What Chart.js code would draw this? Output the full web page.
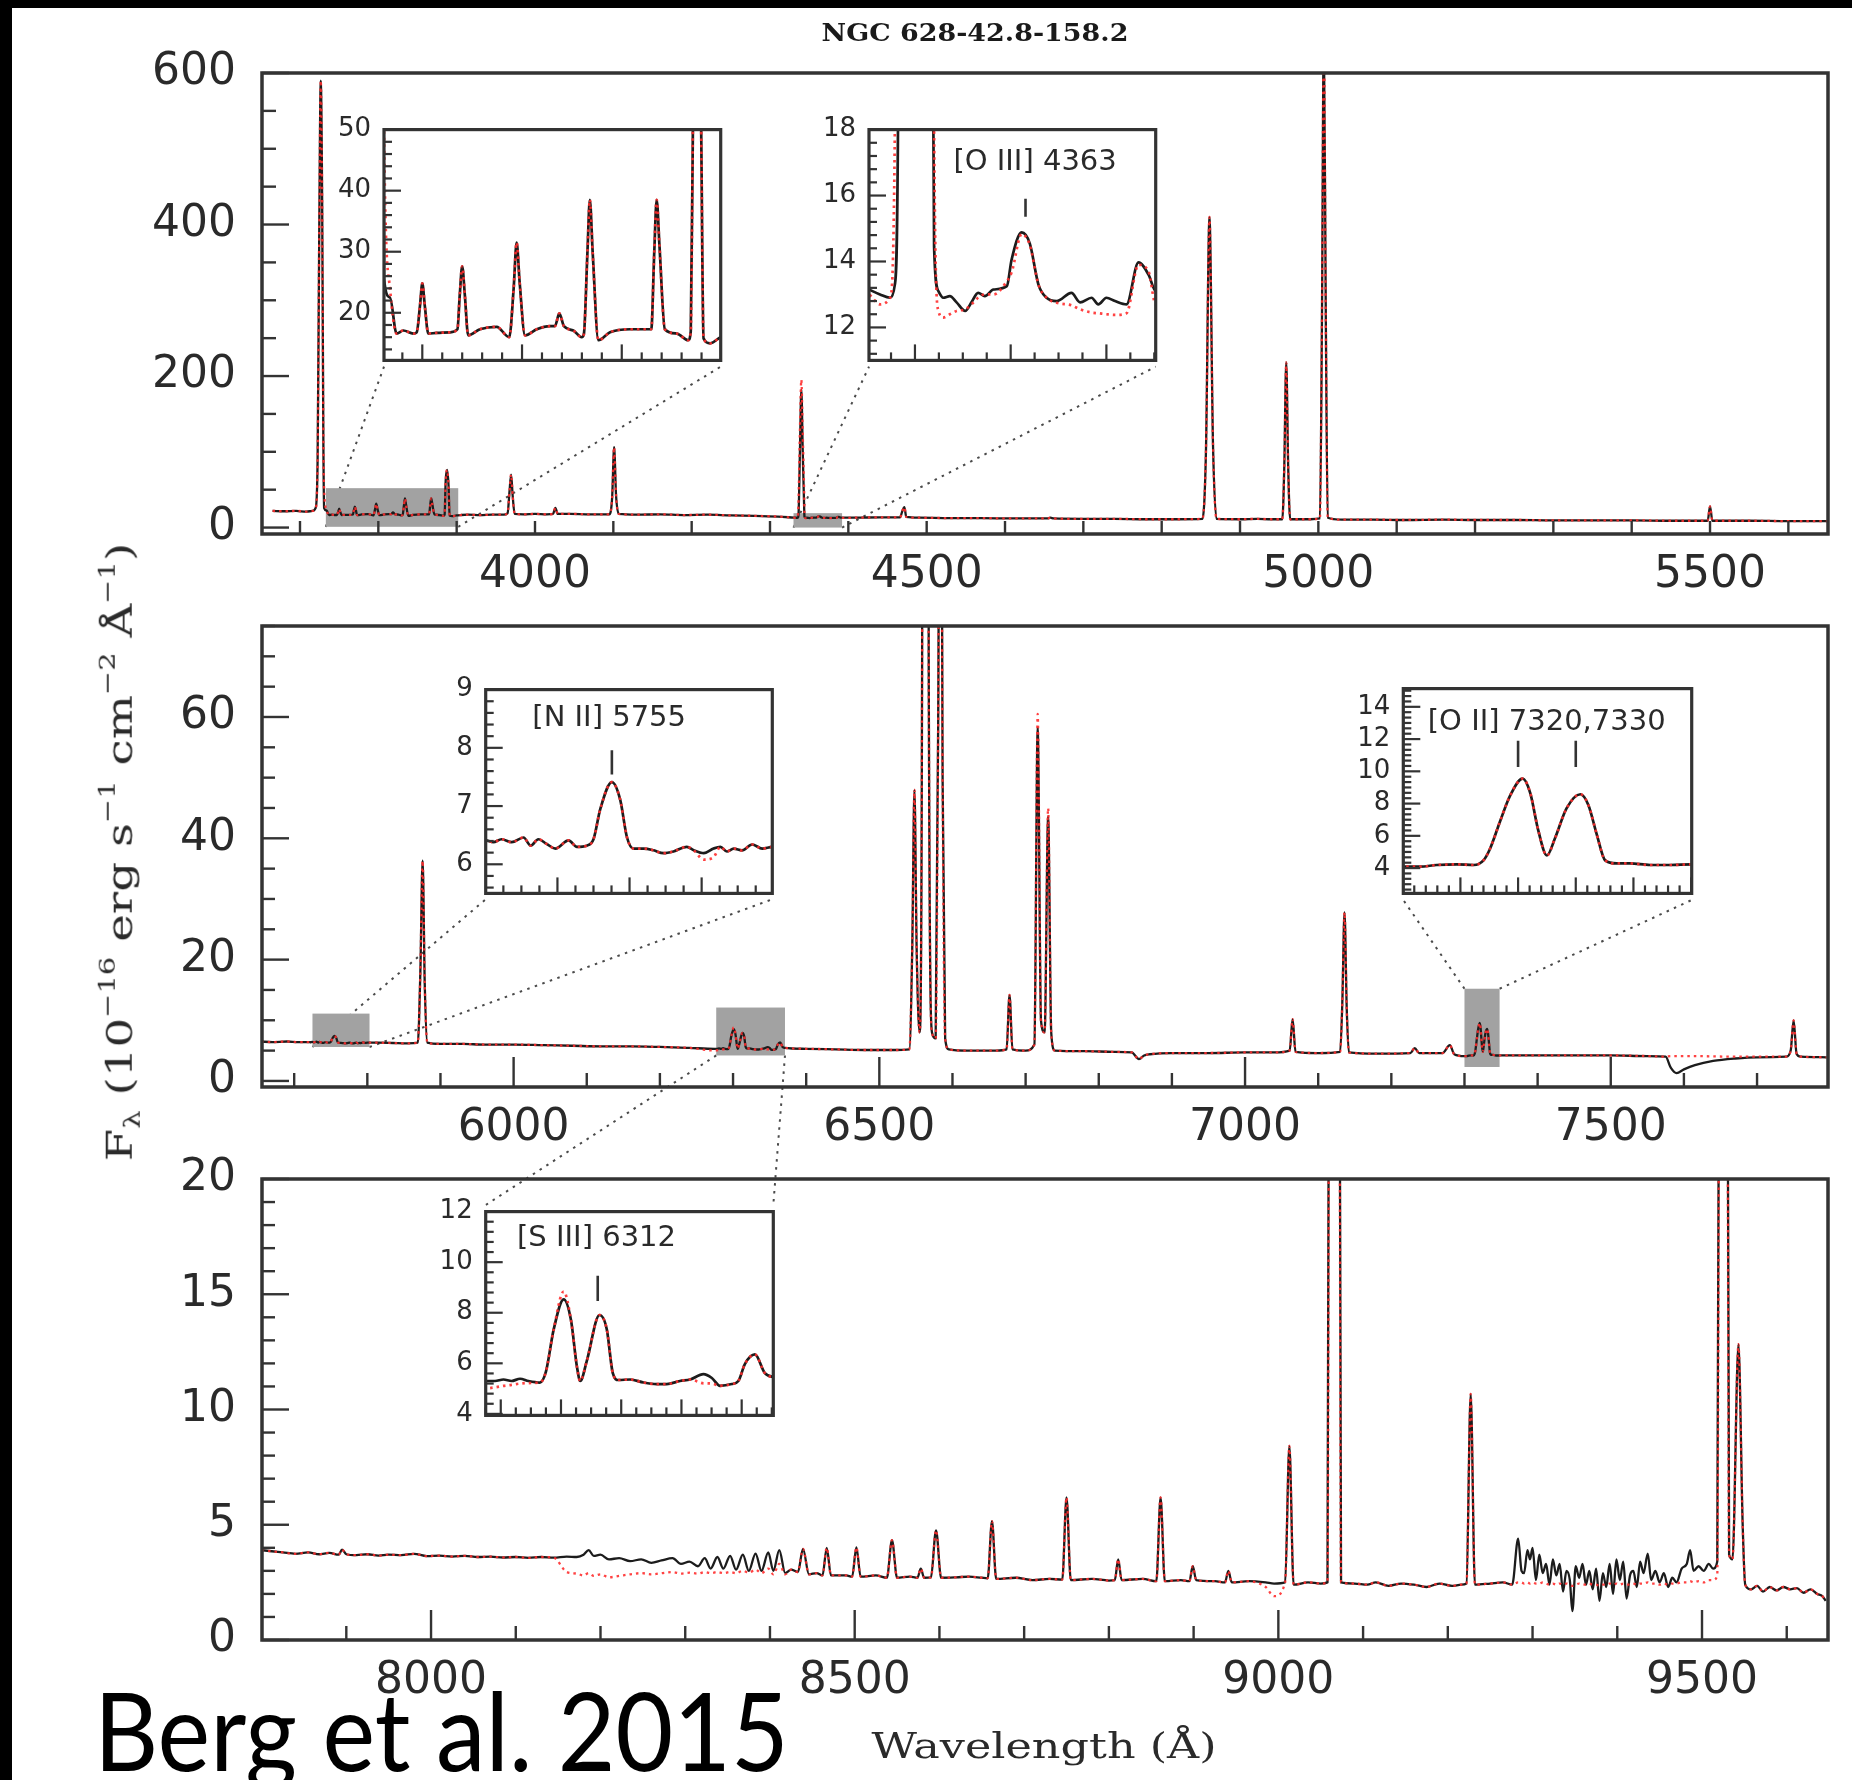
<!DOCTYPE html>
<html><head><meta charset="utf-8">
<script src="https://cdn.jsdelivr.net/npm/chart.js@4.4.1/dist/chart.umd.min.js"></script>
<style>
html,body{margin:0;padding:0;background:#fff;}
#page{position:relative;width:1852px;height:1780px;overflow:hidden;background:#fff;}
#page canvas{position:absolute;}
.txt{position:absolute;white-space:nowrap;color:#222;line-height:normal;}
.sup{font-size:62%;vertical-align:0.75em;}
.sub{font-size:62%;vertical-align:-0.35em;}
</style></head><body>
<div id="page">
<canvas id="c1" width="1852" height="1780" style="left:0;top:0"></canvas>
<canvas id="c2" width="1852" height="1780" style="left:0;top:0"></canvas>
<canvas id="c3" width="1852" height="1780" style="left:0;top:0"></canvas>
</div>
<script>
// ---------------- DATA ----------------
// Panel 1 (3650-5650 A)
const p1XLabels = [4000, 4500, 5000, 5500];
const p1YLabels = [0, 200, 400, 600];
const p1Wave = [3665,3680,3695,3708,3716,3720,3722.5,3724.5,3726.5,3728.3,
 3729.8,3730.8,3733.8,3737.1,3740.5,3745.5,3747.2,3748.8,3750,3751.3,
 3753,3757.2,3763.9,3767.6,3768.8,3770,3771.3,3773,3778.9,3787.3,
 3793.6,3795.8,3797.3,3798.8,3801.5,3807.4,3814,3816.5,3818.7,3821,
 3825.7,3829.9,3831,3832.8,3834,3835.4,3838.3,3844.1,3854.2,3862.5,
 3864.8,3866.3,3867.5,3868.9,3871.6,3877.5,3883.3,3884.6,3886,3887.8,
 3889.6,3891,3894.3,3899.6,3905,3915,3930,3945,3960,3965,
 3967.5,3969.5,3971.5,3974,3985,4000,4015,4023,4026,4029,
 4045,4070,4095,4098.5,4101,4103.5,4107,4130,4160,4190,
 4220,4250,4280,4310,4330.4,4332.7,4334.8,4335.8,4336.5,4338.2,
 4340,4341.8,4343.7,4344,4344.9,4345.9,4347.3,4348.7,4350.5,4351.8,
 4353.2,4354.6,4356.4,4359.2,4360.2,4362.3,4364,4365.8,4367.5,4369.6,
 4372.7,4374.5,4376.9,4378.3,4380,4381.8,4384.2,4386.7,4388.8,4390.3,
 4410,4440,4466,4469,4471.5,4474,4490,4530,4570,4610,
 4654,4658,4662,4700,4740,4780,4820,4852,4856.5,4861,
 4865.5,4870,4900,4922,4940,4954,4956.5,4959,4961.5,4964,
 4990,5002,5004.5,5007,5009.5,5012,5030,5070,5110,5160,
 5200,5250,5300,5350,5400,5450,5497,5500,5503,5550,
 5600,5650];
const p1Flux = [22,21.5,22,21,22,26,90,380,590,430,
 120,25.6,22.5,16.6,17.1,16.6,16.8,21,24.8,21,
 16.6,16.7,16.8,17.3,23,27.6,23,16.3,17.3,17.7,
 16,24,31.5,25,16.3,17.3,17.8,17.8,19.9,17.8,
 17.1,16,16.5,30,38.5,30,15.5,16.8,17.3,17.3,
 17.3,30,38.5,31,17.3,16.6,15.5,17,62,76,
 56,15.8,15,16,16.5,17,16.5,17,17,19,
 48,70,42,18,17.5,18,17.5,18,26,18,
 18,17.5,17.5,40,106,42,18,17,17.5,16.5,
 17,16,15.5,14.5,13.15,13,12.9,13.3,19,100,
 182,100,22,14.45,13.1,12.9,12.95,12.76,12.5,12.76,
 13.05,12.95,13.15,13.25,14.06,14.88,14.54,13.3,12.9,12.8,
 13.05,12.76,12.9,12.7,12.9,12.8,12.7,13.97,13.6,13.1,
 13,13.5,13.5,22,27,14,13,12.5,12.5,12,
 12,13,12,11.5,11.5,11,11,11.5,100,410,
 110,11.5,11,11.5,11,11,80,218,80,11,
 11,12,260,655,280,13,10.5,10.5,10,10.5,
 10,10,9.5,9.5,9.5,9,9,28,9,9,
 8.5,8.5];
// model fit (red dotted): values that differ from the observed spectrum
const p1ModelWave = [3730.8,3733.8,4330.4,4332.7,4334.8,4335.8,4336.5,4338.2,4340,4341.8,
 4343.7,4344,4344.9,4345.9,4347.3,4348.7,4350.5,4351.8,4353.2,4354.6,
 4356.4,4359.2,4360.2,4362.3,4364,4365.8,4367.5,4369.6,4372.7,4374.5,
 4376.9,4378.3,4380,4381.8,4384.2,4386.7,4388.8,4390.3];
const p1ModelFlux = [50,24,13.0,12.7,12.9,18,40,130,195,125,
 40,18,12.5,12.3,12.4,12.5,12.55,12.7,12.9,13.0,
 13.0,13.4,13.67,14.83,14.5,13.3,12.9,12.75,12.67,12.55,
 12.45,12.43,12.4,12.38,12.43,13.9,13.7,12.7];

// Panel 2 (5655-7795 A)
const p2XLabels = [6000, 6500, 7000, 7500];
const p2YLabels = [0, 20, 40, 60];
const p2Wave = [5655,5670,5690,5705,5720.1,5722.2,5724.5,5727.3,5730.6,5732.6,
 5734.7,5737,5739.4,5743.1,5745.4,5748.1,5750,5751.9,5755.1,5757.4,
 5759.3,5761.1,5763.9,5766.7,5769.4,5772.2,5775.9,5777.8,5780.6,5783.3,
 5785.2,5787,5788.9,5791.2,5794,5796.8,5799.7,5815,5835,5855,
 5869,5872.5,5875.6,5878.5,5882,5900,5930,5960,6000,6040,
 6080,6120,6160,6200,6240,6275,6278.1,6280.9,6283.6,6286.4,
 6289.2,6293,6295,6297.6,6300.9,6303.3,6305.3,6306.4,6308.6,6312.8,
 6315.2,6317.2,6319.1,6323,6327.4,6331.8,6335.1,6339.5,6342.9,6347.3,
 6350.1,6352.8,6356.7,6358.9,6361.1,6364.4,6367.7,6370.5,6400,6440,
 6480,6520,6541,6545,6548,6551,6555,6558.5,6561,6563,
 6565,6567.5,6572,6577,6580.5,6583.5,6586.5,6590,6595,6620,
 6660,6674,6678,6682,6700,6712,6716.5,6721,6726,6730.8,
 6735,6740,6780,6820,6845,6855,6862,6870,6900,6950,
 7000,7040,7061,7065,7069,7100,7130,7133,7136,7139,
 7142,7180,7226,7232,7238,7270,7280,7286,7300.1,7303,
 7305.9,7309.4,7312.3,7314,7315.1,7316.9,7318.6,7320.8,7322.1,7323.5,
 7325,7326.4,7328.4,7330.8,7332.2,7333.6,7335.1,7337.1,7339.4,7342.9,
 7346.4,7350.1,7400,7450,7500,7550,7575,7582,7590,7600,
 7615,7640,7670,7700,7740,7746,7750,7754,7760,7795];
const p2Flux = [6.5,6.4,6.5,6.4,6.41,6.38,6.43,6.38,6.46,6.32,
 6.43,6.35,6.27,6.41,6.3,6.32,6.43,6.95,7.41,7.11,
 6.46,6.27,6.27,6.24,6.19,6.22,6.3,6.24,6.19,6.27,
 6.3,6.22,6.27,6.24,6.34,6.27,6.3,6.3,6.25,6.2,
 6.3,18,36.3,16,6.3,6.1,6.1,6,6,5.9,
 5.8,5.7,5.7,5.6,5.45,5.3,5.3,5.36,5.3,5.39,
 5.3,5.24,5.67,7.35,8.53,7.72,5.86,5.3,6.11,7.91,
 7.35,5.61,5.34,5.36,5.24,5.18,5.18,5.3,5.36,5.57,
 5.42,5.11,5.18,5.3,5.98,6.35,5.61,5.46,5.3,5.2,
 5.1,5.1,5.2,22,48,22,8,70,450,1150,
 450,70,8,7,60,150,50,7,5.2,5,
 5,5.2,14.2,5.2,5,6,58.3,10,8,43.6,
 8,5,4.9,4.8,4.7,3.6,4.2,4.4,4.6,4.6,
 4.7,4.7,5,10.2,4.8,4.6,4.8,13,27.8,12,
 4.7,4.5,4.6,5.4,4.6,4.6,5.9,4.4,4.09,4.09,
 4.19,4.23,4.19,4.48,5.17,6.92,8.48,9.55,8.67,6.34,
 4.78,5.85,7.7,8.58,7.9,6.14,4.48,4.29,4.29,4.19,
 4.19,4.23,4.2,4.2,4.2,4.1,4,2.2,1.3,1.9,
 2.6,3.3,3.7,3.9,4,5,10,4.5,4,3.9];
const p2ModelWave = [5780.6,5783.3,6275,6278.1,6280.9,6283.6,6286.4,6289.2,6300.9,6347.3,
 6350.1,6716.5,6730.8,7582,7590,7600,7615,7640,7670,7700];
const p2ModelFlux = [6.08,6.12,5.01,5.05,5.11,5.15,5.2,5.22,8.84,5.21,
 5.2,60.5,45,4.1,4.1,4.1,4.1,4.05,4.0,4.0];

// Panel 3 (7800-9650 A)
const p3XLabels = [8000, 8500, 9000, 9500];
const p3YLabels = [0, 5, 10, 15, 20];
const p3Wave = [7800,7812,7825,7840,7855,7868,7880,7891,7895,7900,
 7912,7925,7938,7950,7965,7980,7995,8010,8025,8040,
 8055,8070,8085,8100,8115,8130,8145,8160,8172,8180,
 8186,8192,8200,8210,8222,8235,8248,8260,8272,8285,
 8295,8305,8315,8323,8330,8338,8345,8353,8360,8368,
 8375,8383,8390,8398,8404,8411,8418,8425,8433,8439,
 8446,8455,8462,8467,8472,8490,8497,8502,8507,8525,
 8538,8544,8550,8565,8574,8578,8582,8590,8596,8602,
 8620,8635,8650,8657,8662,8667,8690,8710,8730,8745,
 8750,8755,8780,8800,8807,8811,8815,8840,8856,8861,
 8866,8885,8895,8899,8903,8925,8937,8941,8945,8965,
 8985,8995,9008,9013,9018,9035,9050,9058,9061,9066,
 9071,9074,9090,9105,9115,9130,9145,9160,9175,9190,
 9205,9216,9222,9227,9232,9250,9265,9276,9283,9287,
 9290,9294,9297,9300,9304,9308,9312,9316,9320,9324,
 9328,9332,9336,9340,9344,9347,9351,9355,9359,9363,
 9367,9371,9375,9379,9383,9387,9391,9395,9399,9403,
 9407,9411,9415,9419,9423,9427,9431,9436,9440,9445,
 9450,9455,9460,9465,9470,9476,9482,9486,9490,9496,
 9502,9508,9513,9518,9521,9525,9529,9532,9536,9543,
 9548,9551,9558,9565,9572,9580,9588,9596,9604,9612,
 9620,9628,9636,9642,9646];
const p3Flux = [3.9,3.85,3.8,3.74,3.8,3.72,3.78,3.7,3.92,3.72,
 3.68,3.72,3.66,3.7,3.68,3.74,3.64,3.66,3.62,3.65,
 3.6,3.62,3.58,3.6,3.56,3.6,3.57,3.62,3.6,3.7,
 3.9,3.65,3.7,3.5,3.55,3.42,3.5,3.35,3.45,3.55,
 3.3,3.4,3.2,3.55,3.1,3.6,3.1,3.65,3.05,3.7,
 3,3.75,3,3.8,3,3.9,2.9,3.05,2.95,3.95,
 2.85,2.9,2.8,4,2.8,2.8,2.75,4.02,2.75,2.8,
 2.7,4.33,2.7,2.75,2.7,3.1,2.7,2.72,4.76,2.7,
 2.72,2.75,2.7,2.68,5.16,2.65,2.7,2.6,2.65,2.62,
 6.19,2.6,2.65,2.58,2.6,3.5,2.6,2.65,2.55,6.19,
 2.55,2.6,2.55,3.2,2.6,2.55,2.5,3,2.5,2.55,
 2.5,2.45,2.5,8.42,2.4,2.5,2.45,2.5,50,80,
 50,2.5,2.45,2.4,2.5,2.35,2.45,2.4,2.3,2.45,
 2.35,2.4,2.45,10.68,2.4,2.45,2.5,2.4,4.4,3.0,
 2.9,3.9,3.5,4.0,2.6,3.7,2.9,3.3,2.4,3.5,
 2.8,3.3,2.1,3.0,2.6,1.25,3.2,2.7,3.3,2.4,
 3.0,2.2,3.1,1.7,2.9,2.3,3.3,2.0,3.5,2.6,
 3.4,1.8,2.8,3.0,2.3,3.4,2.9,3.75,2.6,3.0,
 2.5,2.9,2.3,2.7,2.5,3.1,3.3,3.9,3.0,3.2,
 3.0,3.3,3.1,3.4,40,90,45,3.7,3.5,12.83,
 5,2.4,2.2,2.35,2.1,2.3,2.15,2.3,2.2,2.25,
 2.05,2.2,2,1.9,1.7];
const p3ModelWave = [8160,8172,8180,8186,8192,8200,8210,8222,8235,8248,
 8260,8272,8285,8295,8305,8315,8323,8330,8338,8345,
 8353,8360,8368,8375,8383,8390,8398,8404,8411,8418,
 8985,8995,
 9283,9287,9290,9294,9297,9300,9304,9308,9312,9316,
 9320,9324,9328,9332,9336,9340,9344,9347,9351,9355,
 9359,9363,9367,9371,9375,9379,9383,9387,9391,9395,
 9399,9403,9407,9411,9415,9419,9423,9427,9431,9436,
 9440,9445,9450,9455,9460,9465,9470,9476,9482,9486,
 9490,9496,9502,9508,9513,9518];
const p3ModelFlux = [2.95,2.88,2.8,2.9,2.78,2.85,2.72,2.78,2.85,2.9,
 2.85,2.9,2.95,2.88,2.92,2.88,2.95,2.9,2.95,2.9,
 2.95,2.9,3.0,2.92,3.05,2.9,3.1,2.85,3.3,2.85,
 2.3,1.9,
 2.5,2.5,2.45,2.5,2.45,2.5,2.45,2.45,2.5,2.45,
 2.4,2.45,2.4,2.45,2.4,2.45,2.4,2.35,2.4,2.45,
 2.4,2.4,2.45,2.4,2.4,2.35,2.4,2.4,2.45,2.4,
 2.45,2.4,2.45,2.4,2.4,2.45,2.4,2.45,2.45,2.5,
 2.45,2.45,2.4,2.45,2.4,2.45,2.45,2.5,2.5,2.55,
 2.5,2.55,2.5,2.6,2.6,2.8];

// zoom windows marked in the main panels [wave0, wave1, flux0, flux1]
const box1 = [3733, 3902, 1, 52];
const box2 = [4330, 4392, 0, 19];
const box3 = [5725, 5803, 5.6, 11.1];
const box4 = [6277, 6371, 4.2, 12.1];
const box5 = [7300, 7348, 2.3, 15.2];

// inset tick labels and line markers [wave, fluxLow, fluxHigh]
const i1YLabels = [20, 30, 40, 50];
const i2YLabels = [12, 14, 16, 18];
const i3YLabels = [6, 7, 8, 9];
const i4YLabels = [4, 6, 8, 10, 12, 14];
const i5YLabels = [4, 6, 8, 10, 12];
const i2Marks = [[4363.1, 15.36, 15.9]];
const i3Marks = [[5755.1, 7.54, 7.96]];
const i4Marks = [[7320, 10.27, 11.89], [7330, 10.27, 11.89]];
const i5Marks = [[6312.2, 8.46, 9.46]];

// ---------------- LAYOUT ----------------
const I1 = {inset:true,left:384,top:123.3,right:720.7,bottom:366.7,xmin:3730.8,xmax:3899.6,ymin:12.2,ymax:50,
  yLabels:i1YLabels,xMinor:10,xMajor:50,yMinor:2,yMajor:10,xMajLen:16,xMinLen:8,yMajLen:17,yMinLen:8,tickW:2.2,frameW:3.2};
const I2 = {inset:true,left:869,top:123.3,right:1155.7,bottom:366.7,xmin:4330.4,xmax:4390.3,ymin:11.0,ymax:18,
  yLabels:i2YLabels,xMinor:5,xMajor:20,yMinor:0.4,yMajor:2,xMajLen:16,xMinLen:8,yMajLen:17,yMinLen:8,tickW:2.2,frameW:3.2,
  note:{text:'[O III] 4363',x:4365.1,y:16.99}};
const I3 = {inset:true,left:485.7,top:683.3,right:772.3,bottom:899.3,xmin:5720.1,xmax:5799.6,ymin:5.5,ymax:9,
  yLabels:i3YLabels,xMinor:5,xMajor:20,yMinor:0.2,yMajor:1,xMajLen:16,xMinLen:8,yMajLen:17,yMinLen:8,tickW:2.2,frameW:3.2,
  note:{text:'[N II] 5755',x:5754.35,y:8.51}};
const I4 = {inset:true,left:1403.3,top:682.7,right:1691.7,bottom:900,xmin:7300.1,xmax:7350.1,ymin:2.43,ymax:15.13,
  yLabels:i4YLabels,xMinor:2,xMajor:10,yMinor:1/3,yMajor:2,xMajLen:16,xMinLen:8,yMajLen:17,yMinLen:8,tickW:2.2,frameW:3.2,
  note:{text:'[O II] 7320,7330',x:7324.96,y:13.05}};
const I5 = {inset:true,left:485.7,top:1205,right:773.3,bottom:1421.7,xmin:6275,xmax:6370.5,ymin:3.94,ymax:12,
  yLabels:i5YLabels,xMinor:5,xMajor:20,yMinor:0.4,yMajor:2,xMajLen:16,xMinLen:8,yMajLen:17,yMinLen:8,tickW:2.2,frameW:3.2,
  note:{text:'[S III] 6312',x:6311.8,y:10.95}};

const L1 = {left:262,right:1828,top:73,bottom:534,xmin:3651.5,xmax:5650.6,ymin:-8.5,ymax:600,
  xLabels:p1XLabels,yLabels:p1YLabels,xMinor:100,xMajor:500,yMinor:50,yMajor:200,xMajLen:13,xMinLen:13,yMajLen:27,yMinLen:14,tickW:2.4,frameW:3.5,
  links:[{box:box1,inset:I1,pairs:[['bl','bl'],['br','br']]},{box:box2,inset:I2,pairs:[['bl','bl'],['br','br']]}]};
const L2 = {left:262,right:1828,top:626,bottom:1087,xmin:5656,xmax:7797,ymin:-1,ymax:75,
  xLabels:p2XLabels,yLabels:p2YLabels,xMinor:100,xMajor:500,yMinor:5,yMajor:20,xMajLen:30,xMinLen:14,yMajLen:27,yMinLen:13,tickW:2.4,frameW:3.5,
  links:[{box:box3,inset:I3,pairs:[['bl','bl'],['br','br']]},{box:box4,inset:I5,pairs:[['bl','tl'],['br','tr']]},{box:box5,inset:I4,pairs:[['tl','bl'],['tr','br']]}]};
const L3 = {left:262,right:1828,top:1179,bottom:1640,xmin:7800.5,xmax:9648.7,ymin:0,ymax:20,
  xLabels:p3XLabels,yLabels:p3YLabels,xMinor:100,xMajor:500,yMinor:1,yMajor:5,xMajLen:30,xMinLen:14,yMajLen:27,yMinLen:13,tickW:2.4,frameW:3.5,links:[]};

// ---------------- HELPERS ----------------
function series(w, f) { return w.map((x, i) => ({x: x, y: f[i]})); }
function modelSeries(w, f, mw, mf) {
  const m = new Map(mw.map((x, i) => [x, mf[i]]));
  return w.map((x, i) => ({x: x, y: m.has(x) ? m.get(x) : f[i]}));
}
function spectrum(w, f, mw, mf, lw) {
  return [
    {data: modelSeries(w, f, mw, mf), borderColor: 'rgba(255,45,45,0.9)', borderWidth: lw, borderDash: [2.5, 4], order: 0},
    {data: series(w, f), borderColor: '#1c1c1c', borderWidth: lw, order: 1}
  ];
}
function markSets(marks) {
  return marks.map(m => ({data: [{x: m[0], y: m[1]}, {x: m[0], y: m[2]}], borderColor: '#333', borderWidth: 2.6, order: 2}));
}
function tickList(min, max, minor, major) {
  const out = [];
  for (let k = Math.ceil(min / minor - 1e-9); k * minor <= max + 1e-9; k++) {
    const v = k * minor;
    out.push([v, Math.abs(v / major - Math.round(v / major)) < 1e-6]);
  }
  return out;
}
function decor(lay) {
  return {
    id: 'decor',
    beforeDraw(chart) {
      if (!lay.inset) return;
      const a = chart.chartArea, c = chart.ctx;
      c.save(); c.fillStyle = '#fff'; c.fillRect(a.left, a.top, a.right - a.left, a.bottom - a.top); c.restore();
    },
    beforeDatasetsDraw(chart) {
      const c = chart.ctx, xs = chart.scales.x, ys = chart.scales.y;
      (lay.links || []).forEach(k => {
        const bx0 = xs.getPixelForValue(k.box[0]), bx1 = xs.getPixelForValue(k.box[1]);
        const by0 = ys.getPixelForValue(k.box[2]), by1 = ys.getPixelForValue(k.box[3]);
        const I = k.inset;
        const bc = {bl: [bx0, by0], br: [bx1, by0], tl: [bx0, by1], tr: [bx1, by1]};
        const ic = {bl: [I.left, I.bottom], br: [I.right, I.bottom], tl: [I.left, I.top], tr: [I.right, I.top]};
        c.save(); c.strokeStyle = '#4a4a4a'; c.lineWidth = 2; c.setLineDash([2.5, 5.5]);
        k.pairs.forEach(p => { c.beginPath(); c.moveTo(bc[p[0]][0], bc[p[0]][1]); c.lineTo(ic[p[1]][0], ic[p[1]][1]); c.stroke(); });
        c.restore();
        c.save(); c.fillStyle = '#a2a2a2'; c.fillRect(bx0, by1, bx1 - bx0, by0 - by1); c.restore();
      });
    },
    afterDatasetsDraw(chart) {
      const c = chart.ctx, a = chart.chartArea, xs = chart.scales.x, ys = chart.scales.y;
      c.save();
      c.setLineDash([]); c.strokeStyle = '#333'; c.lineWidth = lay.tickW; c.lineCap = 'butt';
      tickList(lay.xmin, lay.xmax, lay.xMinor, lay.xMajor).forEach(t => {
        const p = xs.getPixelForValue(t[0]), len = t[1] ? lay.xMajLen : lay.xMinLen;
        c.beginPath(); c.moveTo(p, a.bottom); c.lineTo(p, a.bottom - len); c.stroke();
      });
      tickList(lay.ymin, lay.ymax, lay.yMinor, lay.yMajor).forEach(t => {
        const p = ys.getPixelForValue(t[0]), len = t[1] ? lay.yMajLen : lay.yMinLen;
        c.beginPath(); c.moveTo(a.left, p); c.lineTo(a.left + len, p); c.stroke();
      });
      c.lineWidth = lay.frameW; c.strokeStyle = '#333';
      c.strokeRect(a.left, a.top, a.right - a.left, a.bottom - a.top);
      if (lay.note) {
        c.fillStyle = '#2a2a2a'; c.font = '29px "DejaVu Sans"'; c.textAlign = 'center'; c.textBaseline = 'middle';
        c.fillText(lay.note.text, xs.getPixelForValue(lay.note.x), ys.getPixelForValue(lay.note.y));
      }
      c.restore();
    }
  };
}
const commonDS = {pointRadius: 0, pointHitRadius: 0, tension: 0, cubicInterpolationMode: 'monotone', borderJoinStyle: 'round', fill: false};

function makeMain(id, lay, datasets) {
  return new Chart(document.getElementById(id), {
    type: 'line',
    data: {datasets: datasets},
    options: {
      responsive: false, animation: false, events: [],
      datasets: {line: commonDS},
      layout: {padding: {top: lay.top, left: 0, right: 1852 - lay.right, bottom: 1780 - lay.bottom - 60}},
      plugins: {legend: {display: false}, tooltip: {enabled: false}},
      scales: {
        x: {type: 'linear', min: lay.xmin, max: lay.xmax,
            grid: {display: false, drawTicks: false}, border: {display: false},
            afterFit: s => { s.height = 60; },
            afterBuildTicks: s => { s.ticks = lay.xLabels.map(v => ({value: v})); },
            ticks: {autoSkip: false, maxRotation: 0, minRotation: 0, padding: 15, color: '#2a2a2a',
                    font: {family: 'DejaVu Sans', size: 44}, callback: v => String(v)}},
        y: {type: 'linear', min: lay.ymin, max: lay.ymax,
            grid: {display: false, drawTicks: false}, border: {display: false},
            afterFit: s => { s.width = lay.left; },
            afterBuildTicks: s => { s.ticks = lay.yLabels.map(v => ({value: v})); },
            ticks: {autoSkip: false, padding: 26, color: '#2a2a2a',
                    font: {family: 'DejaVu Sans', size: 44}, callback: v => String(v)}}
      }
    },
    plugins: [decor(lay)]
  });
}
function makeInset(lay, datasets) {
  const cl = Math.floor(lay.left) - 80, ct = Math.floor(lay.top) - 22;
  const cw = Math.ceil(lay.right) + 12 - cl, ch = Math.ceil(lay.bottom) + 22 - ct;
  const cv = document.createElement('canvas');
  cv.width = cw; cv.height = ch; cv.style.left = cl + 'px'; cv.style.top = ct + 'px';
  document.getElementById('page').appendChild(cv);
  return new Chart(cv, {
    type: 'line',
    data: {datasets: datasets},
    options: {
      responsive: false, animation: false, events: [],
      datasets: {line: commonDS},
      layout: {padding: {left: 0, top: lay.top - ct, right: cw - (lay.right - cl), bottom: ch - (lay.bottom - ct)}},
      plugins: {legend: {display: false}, tooltip: {enabled: false}},
      scales: {
        x: {type: 'linear', display: false, min: lay.xmin, max: lay.xmax},
        y: {type: 'linear', min: lay.ymin, max: lay.ymax,
            grid: {display: false, drawTicks: false}, border: {display: false},
            afterFit: s => { s.width = lay.left - cl; },
            afterBuildTicks: s => { s.ticks = lay.yLabels.map(v => ({value: v})); },
            ticks: {autoSkip: false, padding: 13, color: '#2a2a2a',
                    font: {family: 'DejaVu Sans', size: 26}, callback: v => String(v)}}
      }
    },
    plugins: [decor(lay)]
  });
}

// ---------------- BUILD ----------------
makeMain('c1', L1, spectrum(p1Wave, p1Flux, p1ModelWave, p1ModelFlux, 2.3));
makeMain('c2', L2, spectrum(p2Wave, p2Flux, p2ModelWave, p2ModelFlux, 2.3));
makeMain('c3', L3, spectrum(p3Wave, p3Flux, p3ModelWave, p3ModelFlux, 2.3));
makeInset(I1, spectrum(p1Wave, p1Flux, p1ModelWave, p1ModelFlux, 2.7));
makeInset(I2, spectrum(p1Wave, p1Flux, p1ModelWave, p1ModelFlux, 2.7).concat(markSets(i2Marks)));
makeInset(I3, spectrum(p2Wave, p2Flux, p2ModelWave, p2ModelFlux, 2.7).concat(markSets(i3Marks)));
makeInset(I4, spectrum(p2Wave, p2Flux, p2ModelWave, p2ModelFlux, 2.7).concat(markSets(i4Marks)));
makeInset(I5, spectrum(p2Wave, p2Flux, p2ModelWave, p2ModelFlux, 2.7).concat(markSets(i5Marks)));

// ---------------- TEXT ----------------
const page = document.getElementById('page');
function addText(html, css) {
  const d = document.createElement('div'); d.className = 'txt'; d.innerHTML = html;
  Object.assign(d.style, css); page.appendChild(d); return d;
}
function centerFit(el, cx, cy, target, rot) {
  const k = target / el.offsetWidth;
  el.style.left = cx + 'px'; el.style.top = cy + 'px';
  el.style.transform = 'translate(-50%,-50%)' + (rot ? ' rotate(-90deg)' : '') + ' scaleX(' + k.toFixed(4) + ')';
}
const tTitle = addText('NGC 628-42.8-158.2', {font: 'bold 25px "DejaVu Serif"', color: '#1a1a1a'});
centerFit(tTitle, 974.5, 32, 307, false);
const tY = addText('F<span class="sub">λ</span> (10<span class="sup">−16</span> erg s<span class="sup">−1</span> cm<span class="sup">−2</span> Å<span class="sup">−1</span>)',
  {font: '36px "DejaVu Serif"', color: '#2a2a2a'});
centerFit(tY, 119, 851.5, 618, true);
const tX = addText('Wavelength (Å)', {font: '36px "DejaVu Serif"', color: '#2a2a2a'});
centerFit(tX, 1044, 1745, 345, false);
const tB = addText('Berg et al. 2015', {font: '108px Lato', color: '#000', lineHeight: '1'});
const kB = 695 / tB.offsetWidth;
tB.style.left = '94px'; tB.style.top = '1675px';
tB.style.transformOrigin = '0 0'; tB.style.transform = 'scaleX(' + kB.toFixed(4) + ')';

const bandT = document.createElement('div');
Object.assign(bandT.style, {position: 'absolute', left: '0', top: '0', width: '1852px', height: '8px', background: '#000'});
const bandL = document.createElement('div');
Object.assign(bandL.style, {position: 'absolute', left: '0', top: '0', width: '12px', height: '1780px', background: '#000'});
page.appendChild(bandT); page.appendChild(bandL);
</script>
</body></html>
